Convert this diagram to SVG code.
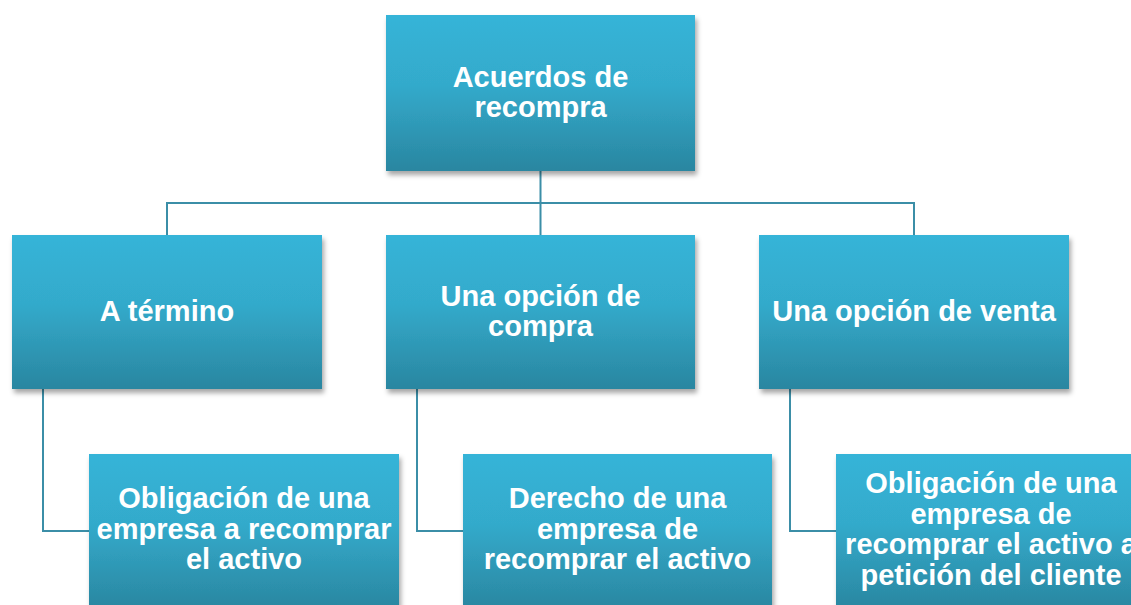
<svg xmlns="http://www.w3.org/2000/svg" width="1131" height="605" viewBox="0 0 1131 605">
<defs>
<linearGradient id="g" x1="0" y1="0" x2="0" y2="1">
<stop offset="0" stop-color="#36b4d8"/>
<stop offset="0.45" stop-color="#33aacb"/>
<stop offset="1" stop-color="#2a86a0"/>
</linearGradient>
<filter id="sh" x="-10%" y="-10%" width="125%" height="130%">
<feDropShadow dx="2" dy="4" stdDeviation="2.5" flood-color="#000" flood-opacity="0.35"/>
</filter>
</defs>
<style>
.box{fill:url(#g);filter:url(#sh)}
.t{font-family:"Liberation Sans",Arial,sans-serif;font-weight:bold;font-size:29px;fill:#fff;text-anchor:middle}
.c{fill:none;stroke:#3b8ea7;stroke-width:2}
</style>
<g id="connectors">
<path class="c" d="M540.5 171 V203 M167 235 V203 H914 V235 M540.5 203 V235"/>
<path class="c" d="M43 389 V531 H89"/>
<path class="c" d="M417 389 V531 H463"/>
<path class="c" d="M790 389 V531 H836"/>
</g>
<g id="n0"><rect class="box" x="386" y="15" width="309" height="156"/>
<text class="t" x="540.5" y="87">Acuerdos de</text><text class="t" x="540.5" y="117">recompra</text></g>
<g id="n1"><rect class="box" x="12" y="235" width="310" height="154"/>
<text class="t" x="167" y="321">A término</text></g>
<g id="n2"><rect class="box" x="386" y="235" width="309" height="154"/>
<text class="t" x="540.5" y="306">Una opción de</text><text class="t" x="540.5" y="336">compra</text></g>
<g id="n3"><rect class="box" x="759" y="235" width="310" height="154"/>
<text class="t" x="914" y="321">Una opción de venta</text></g>
<g id="n4"><rect class="box" x="89" y="454" width="310" height="156"/>
<text class="t" x="244" y="508">Obligación de una</text><text class="t" x="244" y="539">empresa a recomprar</text><text class="t" x="244" y="569">el activo</text></g>
<g id="n5"><rect class="box" x="463" y="454" width="309" height="156"/>
<text class="t" x="617.5" y="508">Derecho de una</text><text class="t" x="617.5" y="539">empresa de</text><text class="t" x="617.5" y="569">recomprar el activo</text></g>
<g id="n6"><rect class="box" x="836" y="454" width="310" height="156"/>
<text class="t" x="991" y="493">Obligación de una</text><text class="t" x="991" y="524">empresa de</text><text class="t" x="991" y="554">recomprar el activo a</text><text class="t" x="991" y="585">petición del cliente</text></g>
</svg>
